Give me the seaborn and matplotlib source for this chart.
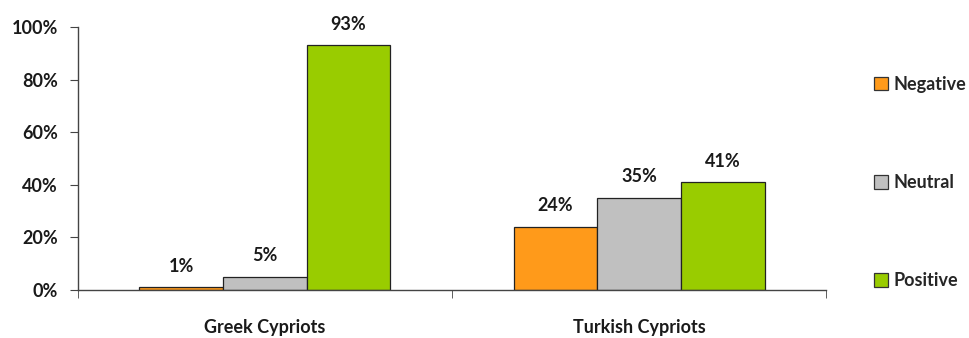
import matplotlib
matplotlib.use("Agg")
import matplotlib.pyplot as plt
from matplotlib.ticker import FuncFormatter, FixedLocator
import pandas as pd
import seaborn as sns

groups = ["Greek Cypriots", "Turkish Cypriots"]
sentiments = ["Negative", "Neutral", "Positive"]
negative = [1, 24]
neutral = [5, 35]
positive = [93, 41]
colors = ["#FF9A1A", "#C0C0C0", "#99CC00"]

rows = []
for g, n, u, p in zip(groups, negative, neutral, positive):
    rows += [(g, "Negative", n), (g, "Neutral", u), (g, "Positive", p)]
df = pd.DataFrame(rows, columns=["group", "sentiment", "value"])

sns.set_style("white")
plt.rcParams["font.family"] = ["Lato", "DejaVu Sans"]
plt.rcParams["font.weight"] = "bold"

fig = plt.figure(figsize=(9.7, 3.38), dpi=100)
ax = fig.add_axes([0.080, 0.142, 0.772, 0.778])

sns.barplot(data=df, x="group", y="value", hue="sentiment", order=groups,
            hue_order=sentiments, palette=colors, saturation=1, width=0.67,
            edgecolor="#222222", linewidth=0.9, ax=ax, legend=False)

for cont in ax.containers:
    ax.bar_label(cont, fmt="%d%%", padding=9, fontsize=13, fontweight="bold",
                 color="#1a1a1a")

ax.set_ylim(0, 100)
ax.set_xlim(-0.5, 1.5)
ax.set_yticks([0, 20, 40, 60, 80, 100])
ax.yaxis.set_major_formatter(FuncFormatter(lambda v, _: f"{int(v)}%"))
ax.set_xlabel("")
ax.set_ylabel("")
ax.xaxis.set_minor_locator(FixedLocator([-0.5, 0.5, 1.5]))
ax.tick_params(axis="x", which="major", length=0, pad=21, labelsize=13,
               labelcolor="#1a1a1a")
ax.tick_params(axis="x", which="minor", length=6, direction="out",
               color="#444444", bottom=True)
ax.tick_params(axis="y", length=6, direction="out", color="#444444",
               left=True, labelsize=13, labelcolor="#1a1a1a", pad=8)
for lab in ax.get_xticklabels() + ax.get_yticklabels():
    lab.set_fontweight("bold")

sns.despine(ax=ax)
for s in ("left", "bottom"):
    ax.spines[s].set_color("#444444")
    ax.spines[s].set_linewidth(1.0)

# legend on the right, widely spaced like the original
handles = [plt.Rectangle((0, 0), 1, 1, facecolor=c, edgecolor="#333333",
                         linewidth=0.9) for c in colors]
fig.legend(handles, sentiments, loc="center left", bbox_to_anchor=(0.884, 0.46),
           frameon=False, labelspacing=4.5, handlelength=0.8, handleheight=0.8,
           handletextpad=0.3, prop={"size": 13, "weight": "bold"})

fig.savefig("out.png", dpi=100)
